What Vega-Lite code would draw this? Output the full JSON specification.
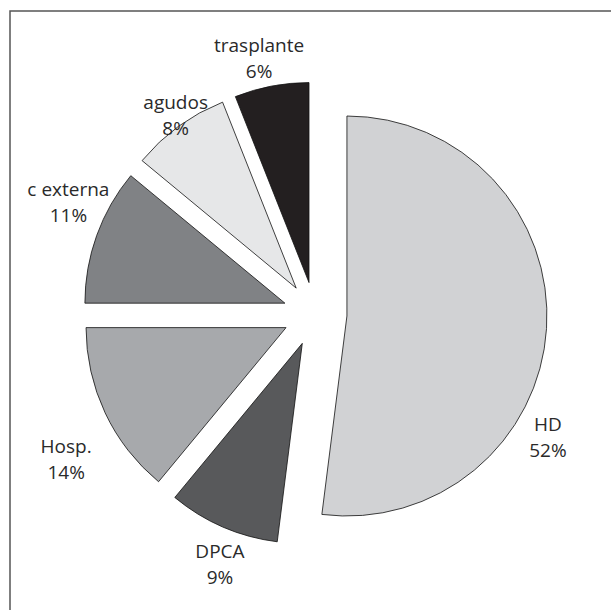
{
  "$schema": "https://vega.github.io/schema/vega-lite/v6.json",
  "width": 610,
  "height": 606,
  "autosize": {"type": "none"},
  "padding": {"left": 10, "top": 11, "right": -9, "bottom": -7},
  "background": "white",
  "view": {"stroke": "#555555", "strokeWidth": 1.5, "fill": "white"},
  "data": {
    "values": [
      {"cat": "HD", "pct": 52},
      {"cat": "DPCA", "pct": 9},
      {"cat": "Hosp.", "pct": 14},
      {"cat": "c externa", "pct": 11},
      {"cat": "agudos", "pct": 8},
      {"cat": "trasplante", "pct": 6}
    ]
  },
  "transform": [
    {"stack": "pct", "groupby": [], "as": ["s0", "s1"]},
    {"calculate": "(datum.s0 + datum.s1) / 2", "as": "mid"},
    {"calculate": "[datum.cat, datum.pct + '%']", "as": "lines"}
  ],
  "layer": [
    {
      "mark": {
        "type": "arc",
        "outerRadius": 200,
        "stroke": "#111111",
        "strokeWidth": 0.8,
        "xOffset": {"expr": "32*sin(PI*(datum.s0+datum.s1)/100)"},
        "yOffset": {"expr": "-32*cos(PI*(datum.s0+datum.s1)/100)"}
      },
      "encoding": {
        "theta": {"field": "s0", "type": "quantitative", "scale": {"domain": [0, 100]}},
        "theta2": {"field": "s1"},
        "color": {
          "field": "cat",
          "type": "nominal",
          "legend": null,
          "scale": {
            "domain": ["HD", "DPCA", "Hosp.", "c externa", "agudos", "trasplante"],
            "range": ["#d1d2d4", "#58595b", "#a7a9ac", "#808285", "#e6e7e8", "#231f20"]
          }
        }
      }
    },
    {
      "mark": {
        "type": "text",
        "radius": {"expr": "datum.cat=='HD'?258:datum.cat=='DPCA'?256:datum.cat=='Hosp.'?282:datum.cat=='c externa'?276:datum.cat=='agudos'?253:274"},
        "thetaOffset": {"expr": "datum.cat=='HD'?0.382:datum.cat=='DPCA'?-0.028:datum.cat=='Hosp.'?-0.05:datum.cat=='c externa'?0.12:datum.cat=='agudos'?0.045:-0.017"},
        "font": "Open Sans",
        "fontSize": 19,
        "lineHeight": 26,
        "color": "#2a2a2a",
        "align": "center",
        "baseline": "middle"
      },
      "encoding": {
        "theta": {"field": "mid", "type": "quantitative"},
        "text": {"field": "lines"}
      }
    }
  ]
}
